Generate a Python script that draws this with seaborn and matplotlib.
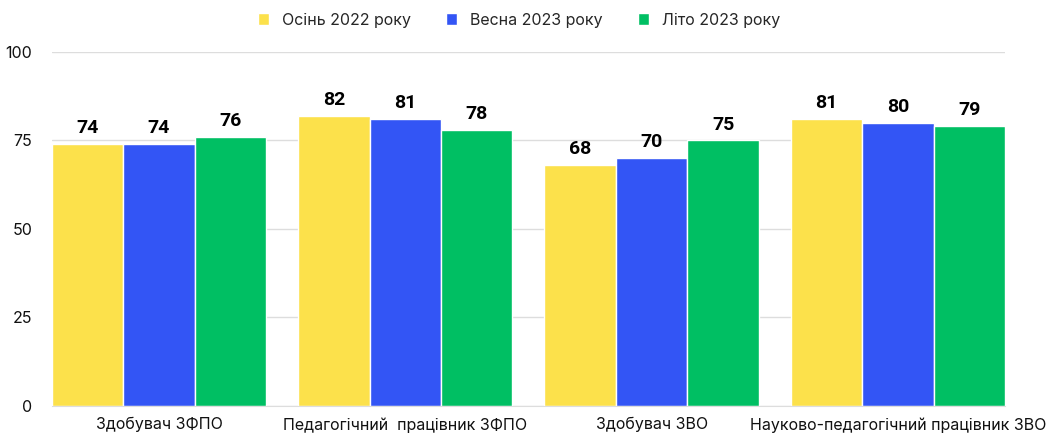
import pandas as pd
import seaborn as sns
import matplotlib.pyplot as plt

# values
categories = ["Здобувач ЗФПО", "Педагогічний  працівник ЗФПО", "Здобувач ЗВО",
              "Науково-педагогічний працівник ЗВО"]
seasons = ["Осінь 2022 року", "Весна 2023 року", "Літо 2023 року"]
autumn_2022 = [74, 82, 68, 81]
spring_2023 = [74, 81, 70, 80]
summer_2023 = [76, 78, 75, 79]
colors = ["#FCE14B", "#3355F5", "#00BF63"]

rows = []
for season, vals in zip(seasons, [autumn_2022, spring_2023, summer_2023]):
    for cat, v in zip(categories, vals):
        rows.append({"category": cat, "season": season, "value": v})
df = pd.DataFrame(rows)

sns.set_style("white")
plt.rcParams["font.family"] = ["Inter", "DejaVu Sans"]

fig = plt.figure(figsize=(10.58, 4.37), dpi=100)
ax = fig.add_axes([0.049, 0.071, 0.901, 0.81])

sns.barplot(data=df, x="category", y="value", hue="season", order=categories,
            hue_order=seasons, palette=colors, width=0.87, saturation=1,
            edgecolor="white", linewidth=1, legend=True, ax=ax)

for cont in ax.containers:
    ax.bar_label(cont, fmt="%d", padding=5, fontsize=14, fontweight="bold",
                 color="black", family=["Roboto", "DejaVu Sans"])

ax.set_ylim(0, 100)
ax.set_xlim(-0.435, 3.435)
ax.set_yticks([0, 25, 50, 75, 100])
ax.yaxis.grid(True, color="#DDDDDD", linewidth=1)
ax.set_axisbelow(True)
for s in ["top", "right", "left"]:
    ax.spines[s].set_visible(False)
ax.spines["bottom"].set_color("#DDDDDD")
ax.tick_params(axis="both", length=0, labelsize=11.5, colors="#111111")
ax.tick_params(axis="y", pad=14)
ax.tick_params(axis="x", pad=8)
ax.set_xlabel("")
ax.set_ylabel("")

ax.legend(loc="center", bbox_to_anchor=(0.49, 1.09), ncol=3, frameon=False,
          fontsize=11.5, handlelength=0.7, handleheight=0.7, columnspacing=2.2,
          handletextpad=0.8)

plt.savefig("out.png", dpi=100)
